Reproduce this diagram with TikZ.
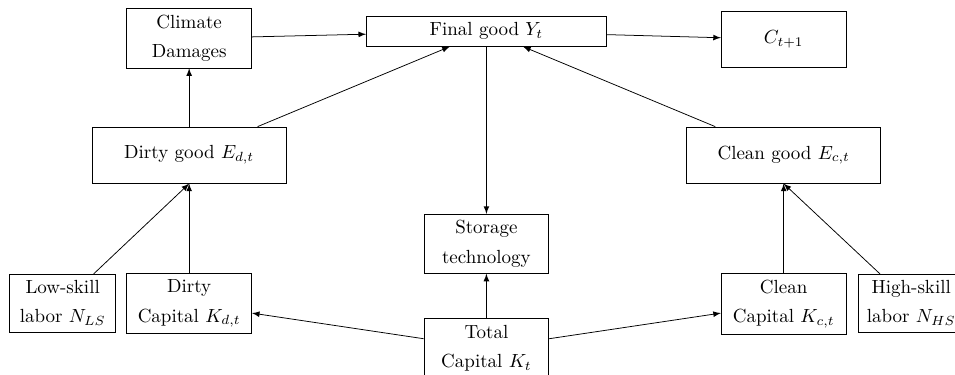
\documentclass[tikz,border=0pt]{standalone}
\usepackage{amsmath}
\usepackage{amssymb}

\begin{document}
\begin{tikzpicture}[>=latex]
  \tikzset{blk/.style={draw, align=center, minimum width=2.31cm}}
  \useasboundingbox (0,0) rectangle (17.67,-6.92);

  \node[blk, minimum width=4.44cm] (Yt) at (9.0,-0.58) {Final good $Y_t$};
  \node[blk] (dam) at (3.5,-0.71) {Climate\\[3.3pt]Damages};
  \node[blk, minimum height=1.04cm] (Cn) at (14.5,-0.73) {$C_{t+1}$};
  \node[blk, minimum width=3.59cm, minimum height=1.04cm] (Ed) at (3.5,-2.87) {Dirty good $E_{d,t}$};
  \node[blk, minimum width=3.59cm, minimum height=1.04cm] (Ec) at (14.5,-2.87) {Clean good $E_{c,t}$};
  \node[blk] (stor) at (9.0,-4.51) {Storage\\[3.3pt]technology};
  \node[blk] (Kt) at (9.0,-6.44) {Total\\[3.3pt]Capital $K_t$};
  \node[blk, minimum width=1.96cm] (NLS) at (1.16,-5.61) {Low-skill\\[3.3pt]labor $N_{LS}$};
  \node[blk] (Kd) at (3.5,-5.62) {Dirty\\[3.3pt]Capital $K_{d,t}$};
  \node[blk] (Kc) at (14.5,-5.62) {Clean\\[3.3pt]Capital $K_{c,t}$};
  \node[blk, minimum width=1.96cm] (NHS) at (16.86,-5.61) {High-skill\\[3.3pt]labor $N_{HS}$};

  \draw [->] (dam) -- (Yt);
  \draw [->] (Yt) -- (Cn);
  \draw [->] (Ed) -- (dam);
  \draw [->] (Ed) -- (Yt);
  \draw [->] (Ec) -- (Yt);
  \draw [->] (Yt) -- (stor);
  \draw [->] (Kt) -- (stor);
  \draw [->] (Kt) -- (Kd);
  \draw [->] (Kt) -- (Kc);
  \draw [->] (Kd) -- (Ed.south);
  \draw [->] (NLS) -- (Ed.south);
  \draw [->] (Kc) -- (Ec.south);
  \draw [->] (NHS) -- (Ec.south);
\end{tikzpicture}
\end{document}
